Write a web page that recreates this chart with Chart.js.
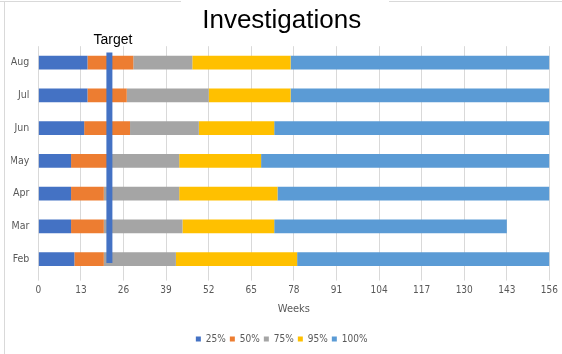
<!DOCTYPE html>
<html>
<head>
<meta charset="utf-8">
<script src="https://cdn.jsdelivr.net/npm/chart.js@4.4.1/dist/chart.umd.min.js"></script>
<style>
  html, body { margin: 0; padding: 0; background: #ffffff; }
  #wrap { width: 562px; height: 354px; position: relative; }
</style>
</head>
<body>
<div id="wrap"><canvas id="chart" width="562" height="354"></canvas></div>
<script>
// Months, top row first
const months = ['Aug', 'Jul', 'Jun', 'May', 'Apr', 'Mar', 'Feb'];

// Weeks taken to close each share of the month's investigations
const p25  = [15, 15, 14, 10, 10, 10, 11];
const p50  = [29, 27, 28, 21, 20, 20, 20];
const p75  = [47, 52, 49, 43, 43, 44, 42];
const p95  = [77, 77, 72, 68, 73, 72, 79];
const p100 = [156, 156, 156, 156, 156, 143, 156];

const seriesNames = ['25%', '50%', '75%', '95%', '100%'];
const seriesColors = ['#4472C4', '#ED7D31', '#A5A5A5', '#FFC000', '#5B9BD5'];

// Week axis ticks
const weekTicks = [0, 13, 26, 39, 52, 65, 78, 91, 104, 117, 130, 143, 156];

// Target turnaround, in weeks
const targetWeeks = 21.7;

const NARROW = '"DejaVu Sans Condensed", "Liberation Sans", sans-serif';
const SANS = '"Liberation Sans", Arial, sans-serif';

// Each stacked segment is the gap between consecutive percentiles
const cumulative = [p25, p50, p75, p95, p100];
const barSets = cumulative.map((arr, k) => ({
  type: 'bar',
  label: seriesNames[k],
  data: arr.map((v, i) => k === 0 ? v : v - cumulative[k - 1][i]),
  backgroundColor: seriesColors[k],
  borderWidth: 0,
  barPercentage: 0.42,
  categoryPercentage: 1.0,
  grouped: false,
  stack: 'weeks',
  xAxisID: 'x',
  yAxisID: 'y',
  order: 1
}));

const targetSet = {
  type: 'line',
  label: 'Target',
  data: [{ x: targetWeeks, y: 0.055 }, { x: targetWeeks, y: 0.972 }],
  borderColor: '#4472C4',
  borderWidth: 6,
  pointRadius: 0,
  borderCapStyle: 'butt',
  fill: false,
  xAxisID: 'x',
  yAxisID: 'yT',
  order: 0
};

// Light frame round the chart area, with the title sitting over the top edge
const framePlugin = {
  id: 'frame',
  beforeDraw(chart) {
    const ctx = chart.ctx;
    ctx.save();
    ctx.fillStyle = '#ffffff';
    ctx.fillRect(0, 0, chart.width, chart.height);
    ctx.strokeStyle = '#d9d9d9';
    ctx.lineWidth = 1;
    ctx.beginPath();
    ctx.moveTo(0, 1.5); ctx.lineTo(181, 1.5);
    ctx.moveTo(389, 1.5); ctx.lineTo(chart.width, 1.5);
    ctx.moveTo(4.5, 1.5); ctx.lineTo(4.5, chart.height);
    ctx.stroke();
    ctx.restore();
  }
};

// "Target" caption above the target line
const targetLabelPlugin = {
  id: 'targetLabel',
  afterDatasetsDraw(chart) {
    const ctx = chart.ctx;
    const x = chart.scales.x.getPixelForValue(targetWeeks);
    const y = chart.scales.yT.getPixelForValue(0.972);
    ctx.save();
    ctx.font = '14px ' + SANS;
    ctx.fillStyle = '#000000';
    ctx.textAlign = 'center';
    ctx.textBaseline = 'alphabetic';
    ctx.fillText('Target', x + 3.5, y - 9);
    ctx.restore();
  }
};

new Chart(document.getElementById('chart'), {
  type: 'bar',
  data: {
    labels: months,
    datasets: [targetSet, ...barSets]
  },
  options: {
    indexAxis: 'y',
    responsive: false,
    animation: false,
    devicePixelRatio: 1,
    layout: { padding: { left: 11.1, right: 9.7, top: 0, bottom: 0 } },
    scales: {
      x: {
        type: 'linear',
        stacked: true,
        min: 0,
        max: 156,
        afterBuildTicks(axis) { axis.ticks = weekTicks.map(v => ({ value: v })); },
        afterFit(axis) { axis.height = 54.4; },
        grid: { color: '#d9d9d9', lineWidth: 1, drawTicks: true, tickLength: 5, tickColor: '#d9d9d9' },
        border: { display: false },
        ticks: {
          color: '#595959',
          font: { family: NARROW, size: 10 },
          padding: 4,
          maxRotation: 0,
          autoSkip: false
        },
        title: {
          display: true,
          text: 'Weeks',
          color: '#595959',
          font: { family: NARROW, size: 11 },
          padding: { top: 4, bottom: 14 }
        }
      },
      y: {
        type: 'category',
        stacked: true,
        afterFit(axis) { axis.width = 27.2; },
        grid: { display: false, drawTicks: false },
        border: { display: false },
        ticks: {
          color: '#595959',
          font: { family: NARROW, size: 10.5 },
          padding: 9
        }
      },
      yT: {
        type: 'linear',
        display: false,
        offset: false,
        min: 0,
        max: 1
      }
    },
    plugins: {
      title: {
        display: true,
        text: 'Investigations',
        color: '#000000',
        font: { family: SANS, size: 26, weight: 'normal' },
        padding: { top: 5, bottom: 10 }
      },
      legend: {
        position: 'bottom',
        labels: {
          filter: item => item.text !== 'Target',
          boxWidth: 5,
          boxHeight: 5,
          padding: 4,
          color: '#595959',
          font: { family: NARROW, size: 10 }
        }
      },
      tooltip: { enabled: false }
    }
  },
  plugins: [framePlugin, targetLabelPlugin]
});
</script>
</body>
</html>
